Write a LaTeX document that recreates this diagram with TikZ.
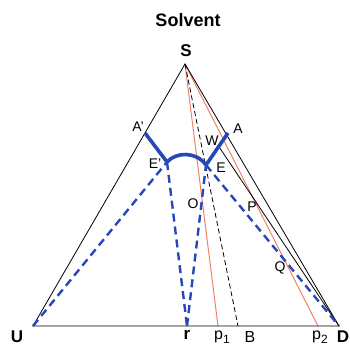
\documentclass[tikz,border=0pt]{standalone}
\usepackage{fontspec}
\setmainfont{Liberation Sans}
\usetikzlibrary{calc}
\definecolor{bl}{RGB}{38,72,184}
\definecolor{sal}{RGB}{242,128,100}
\tikzset{
  side/.style={draw=black,line width=0.8pt},
  tie/.style={draw=sal,line width=1pt},
  blkdash/.style={draw=black,line width=0.8pt,dash pattern=on 5pt off 3pt},
  bluedash/.style={draw=bl,line width=2.4pt,dash pattern=on 8pt off 5pt},
  binodal/.style={draw=bl,line width=3.6pt,line join=round},
  lab/.style={font=\fontsize{14}{14}\selectfont,inner sep=0pt},
  baselab/.style={font=\fontsize{16}{16}\selectfont,inner sep=0pt},
  blab/.style={font=\fontsize{17}{17}\selectfont\bfseries,inner sep=0pt}
}
\newcommand{\psub}[1]{p\raisebox{-3.5pt}{\fontsize{12}{12}\selectfont #1}}
\begin{document}
\begin{tikzpicture}[x=1pt,y=-1pt]
\useasboundingbox (0,0) rectangle (350,345);
% vertices and points
\coordinate (S) at (185,64);
\coordinate (U) at (33,326);
\coordinate (D) at (339,326);
\coordinate (r) at (187,326);
\coordinate (p1) at (218,326);
\coordinate (B) at (238,326);
\coordinate (p2) at (318,326);
\coordinate (Ap) at (145,133);
\coordinate (Ep) at (167,162);
\coordinate (E) at (206,165);
\coordinate (A) at (228,133);
\coordinate (W) at ($(E)!0.58!(A)$);
% lines from solvent apex
\draw[tie] (S) -- (p1);
\draw[tie] (S) -- (p2);
\draw[blkdash] (S) -- (B);
\draw[side] (W) -- (D);
% triangle
\draw[side] (S) -- (U) -- (D) -- cycle;
% dashed blue construction lines
\draw[bluedash] (U) -- (Ep);
\draw[bluedash] (Ep) -- (r);
\draw[bluedash] (r) -- (E);
\draw[bluedash] (E) -- (D);
% binodal curve
\draw[binodal] (Ap) -- (Ep) .. controls (176,152) and (196,151) .. (E) -- (A);
% labels
\node[font=\fontsize{18}{18}\selectfont\bfseries,inner sep=0pt] (tsolv) at (188,20) {Solvent};
\node[font=\fontsize{17}{17}\selectfont\bfseries,inner sep=0pt] (tS) at (186,51) {S};
\node[lab] (tAp) at (138,127) {A'};
\node[lab] (tW) at (212,141) {W};
\node[lab] (tA) at (238,129) {A};
\node[lab] (tEp) at (155,164) {E'};
\node[lab] (tE) at (221,168) {E};
\node[lab] (tO) at (193,204) {O};
\node[lab] (tP) at (252,207) {P};
\node[lab] (tQ) at (280,268) {Q};
\node[blab] (tU) at (17,337) {U};
\node[blab] (tr) at (187,335) {r};
\node[baselab] (tp1) at (222,337) {\psub{1}};
\node[baselab] (tB) at (250,337) {B};
\node[baselab] (tp2) at (320,337) {\psub{2}};
\node[blab] (tD) at (343,337) {D};
\end{tikzpicture}
\end{document}
